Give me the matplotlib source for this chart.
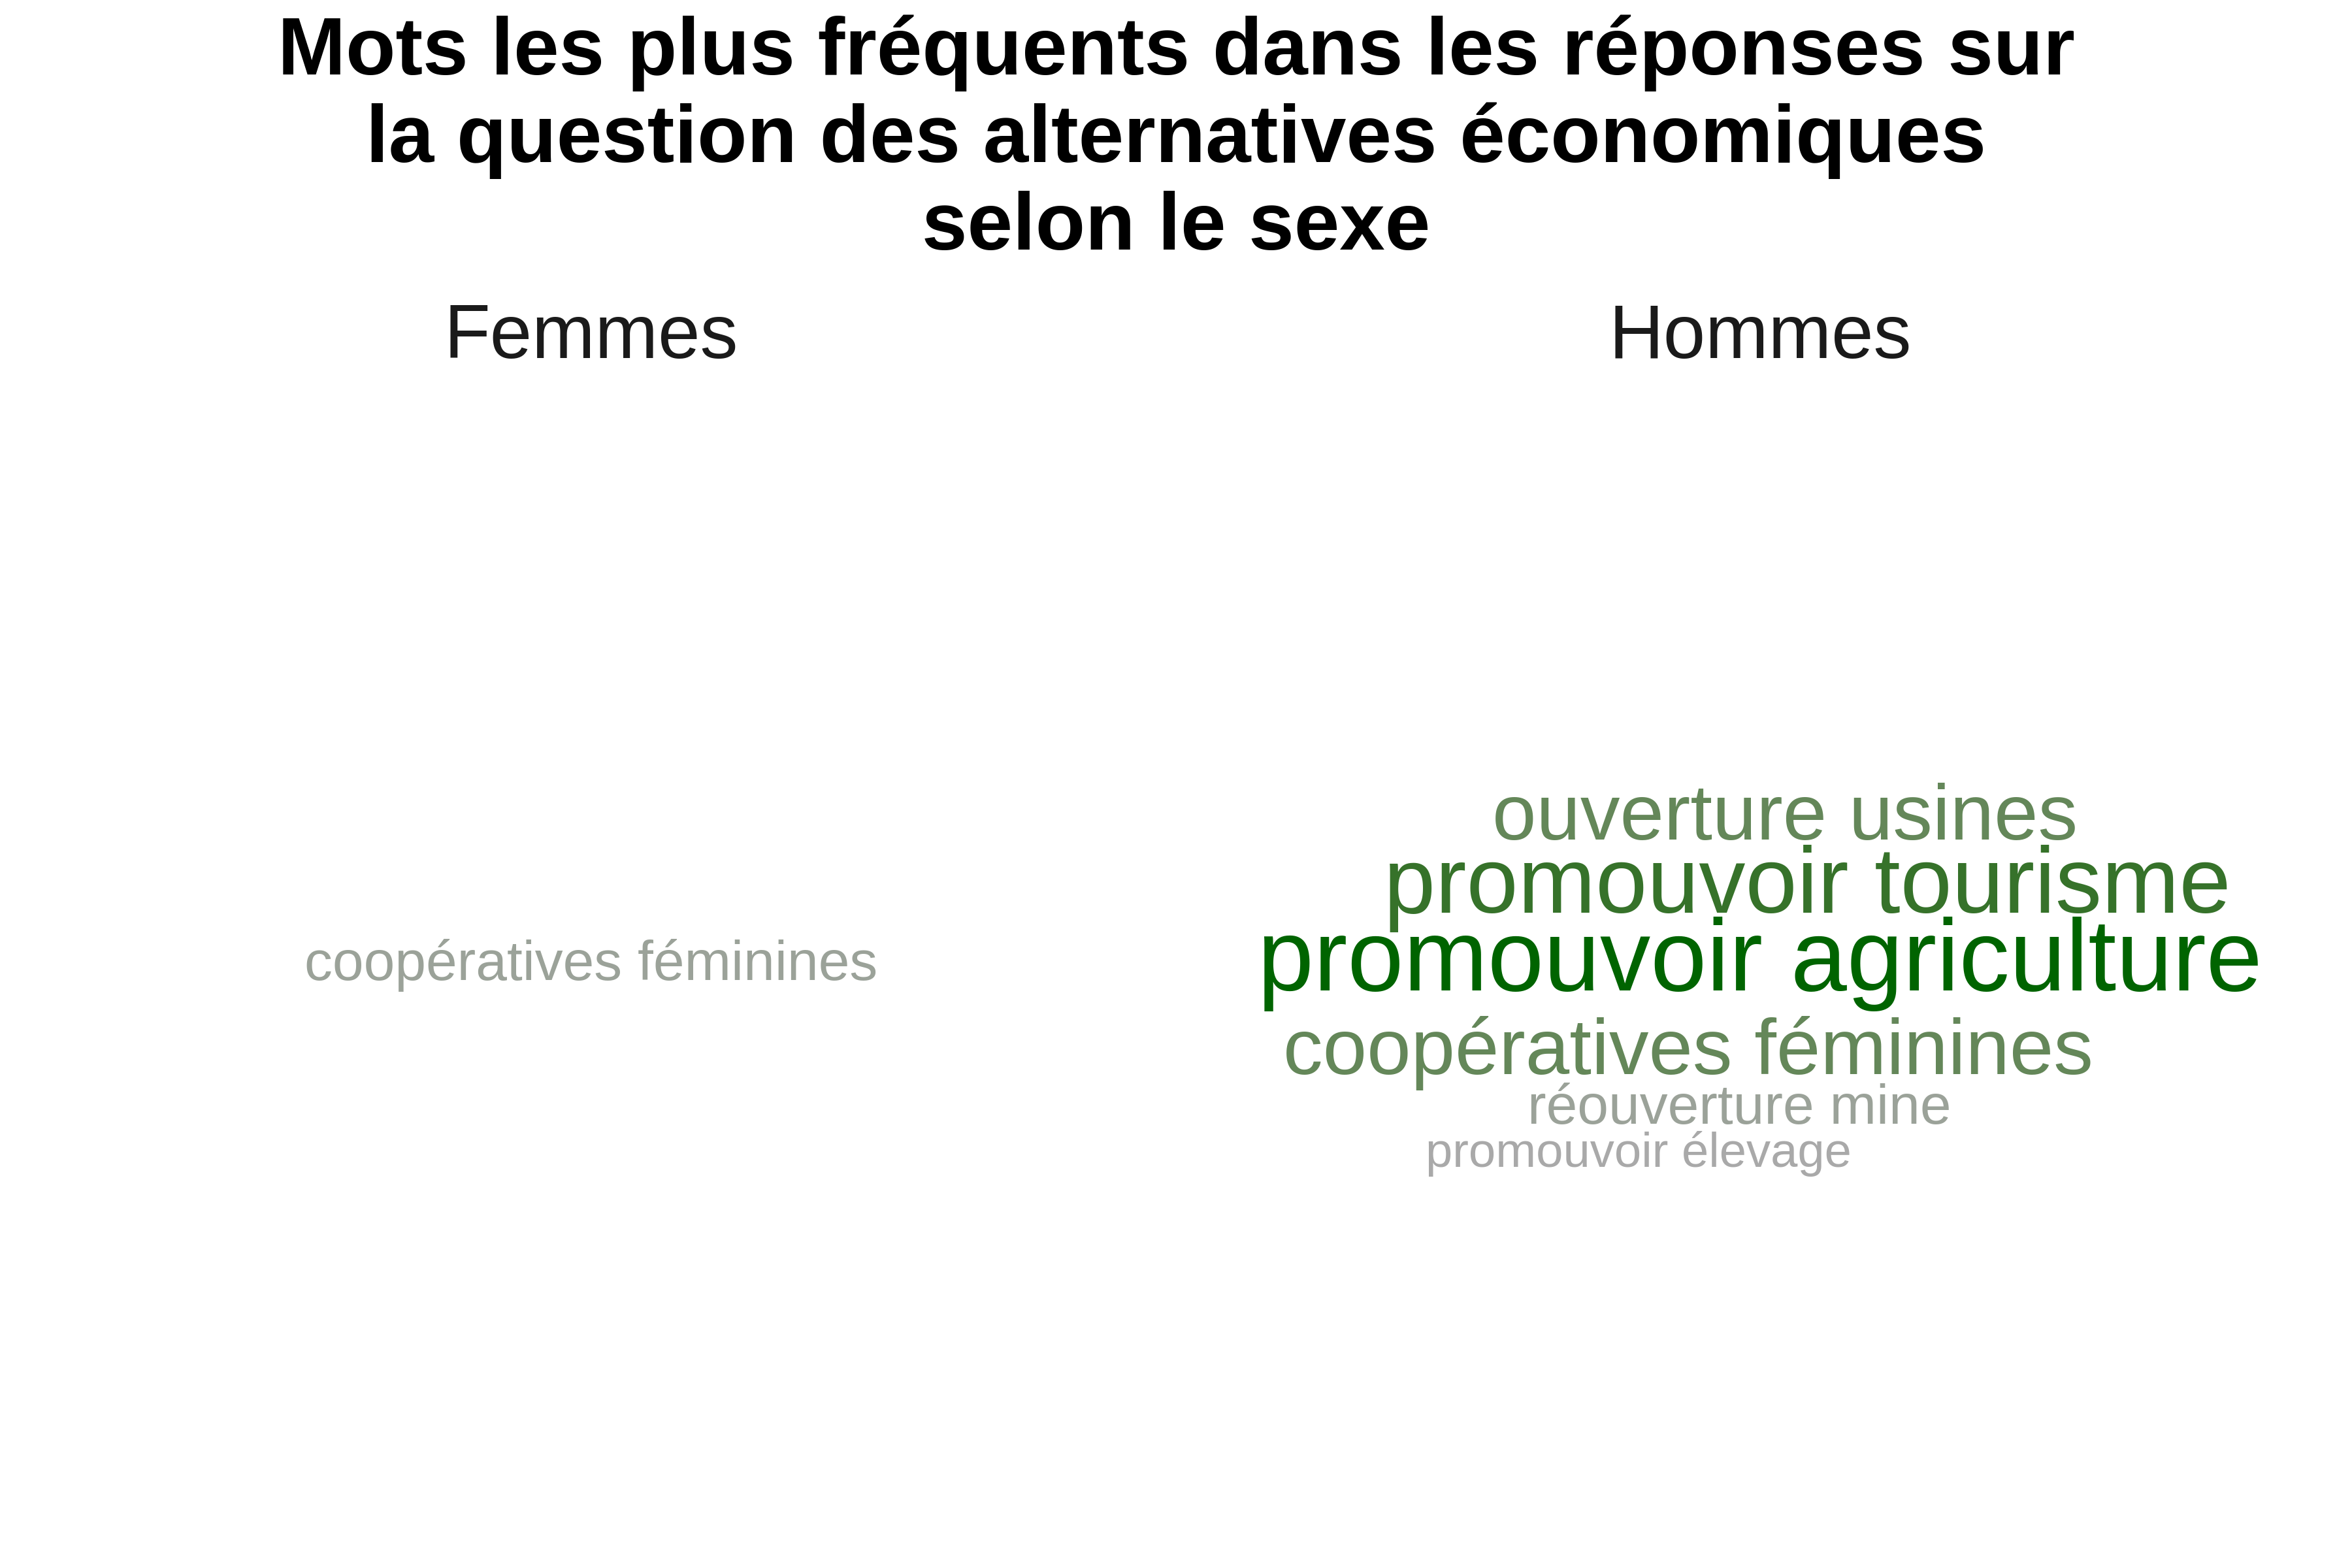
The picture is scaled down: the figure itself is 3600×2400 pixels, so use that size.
import numpy as np
import matplotlib.pyplot as plt
import matplotlib.colors as mcolors

plt.rcParams['font.family'] = ['Liberation Sans', 'DejaVu Sans']

# données : fréquence des expressions selon le sexe
facettes = ["Femmes", "Hommes"]
femmes_mots = ["coopératives féminines"]
femmes_freq = [4]
hommes_mots = ["promouvoir agriculture", "promouvoir tourisme", "ouverture usines",
               "coopératives féminines", "réouverture mine", "promouvoir élevage"]
hommes_freq = [13, 11, 8, 8, 4, 3]

titre = ["Mots les plus fréquents dans les réponses sur",
         "la question des alternatives économiques",
         "selon le sexe"]

# placement du nuage : décalage (px) par rapport au centre du panneau
placement = {
    "Femmes": [(0, 20)],
    "Hommes": [(0, 36), (72, -83), (38, -195), (-110, 164), (-32, 240), (-186, 306)],
}

M = np.array([[0.4124, 0.3576, 0.1805],
              [0.2126, 0.7152, 0.0722],
              [0.0193, 0.1192, 0.9505]])
WHITE = np.array([0.95047, 1.0, 1.08883])


def to_lab(rgb):
    c = np.asarray(rgb, float)
    lin = np.where(c <= 0.04045, c / 12.92, ((c + 0.055) / 1.055) ** 2.4)
    xyz = M @ lin / WHITE
    f = np.where(xyz > 0.008856, np.cbrt(xyz), 7.787 * xyz + 16 / 116)
    return np.array([116 * f[1] - 16, 500 * (f[0] - f[1]), 200 * (f[1] - f[2])])


def from_lab(lab):
    L, a, b = lab
    fy = (L + 16) / 116
    f = np.array([fy + a / 500, fy, fy - b / 200])
    xyz = np.where(f ** 3 > 0.008856, f ** 3, (f - 16 / 116) / 7.787) * WHITE
    lin = np.linalg.inv(M) @ xyz
    c = np.where(lin <= 0.0031308, 12.92 * lin, 1.055 * np.clip(lin, 0, None) ** (1 / 2.4) - 0.055)
    return np.clip(c, 0, 1)


# échelle de couleur darkgrey -> darkgreen (interpolée en Lab, comme ggplot)
low = to_lab(mcolors.to_rgb("darkgrey"))
high = to_lab(mcolors.to_rgb("darkgreen"))
toutes = femmes_freq + hommes_freq
vmin, vmax = min(toutes), max(toutes)
max_size = 37.1  # pt


def couleur(v):
    t = (v - vmin) / (vmax - vmin)
    return from_lab(low + t * (high - low))


def taille(v):
    return max_size * np.sqrt(v / vmax)


fig = plt.figure(figsize=(12, 8), dpi=300)
W, H = 3600, 2400

donnees = {"Femmes": (femmes_mots, femmes_freq), "Hommes": (hommes_mots, hommes_freq)}
centres = {"Femmes": 905, "Hommes": 2694}

for facette in facettes:
    cx = centres[facette]
    ax = fig.add_axes([(cx - 890) / W, 10 / H, 1780 / W, 1820 / H])
    ax.set_xlim(-890, 890)
    ax.set_ylim(910, -910)
    ax.axis('off')
    mots, freq = donnees[facette]
    for mot, v, (dx, dy) in zip(mots, freq, placement[facette]):
        ax.text(dx, dy, mot, ha='center', va='baseline',
                fontsize=taille(v), color=couleur(v))
    fig.text(cx / W, 1 - 548 / H, facette, ha='center', va='baseline',
             fontsize=27.8, color='#1a1a1a')

for i, ligne in enumerate(titre):
    fig.text(0.5, 1 - (114 + 134 * i) / H, ligne, ha='center', va='baseline',
             fontsize=30.0, fontweight='bold', color='black')

fig.savefig('out.png', dpi=300)
